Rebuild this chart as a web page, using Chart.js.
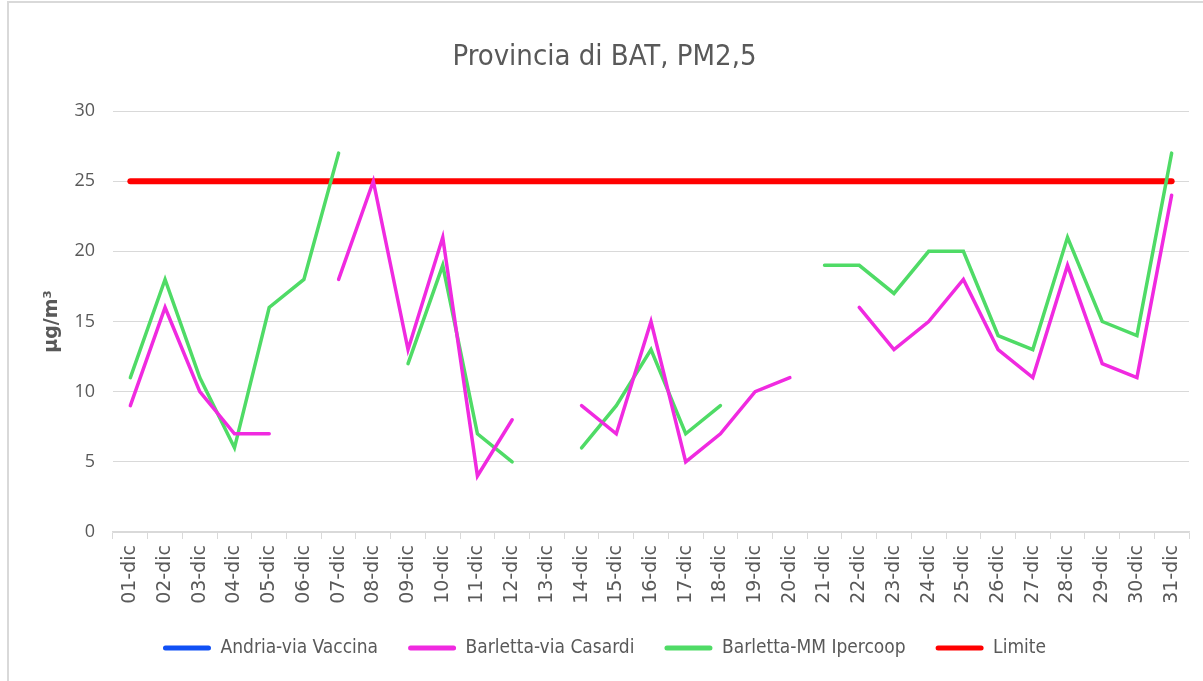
<!DOCTYPE html>
<html>
<head>
<meta charset="utf-8">
<title>Provincia di BAT, PM2,5</title>
<script src="https://cdn.jsdelivr.net/npm/chart.js@4.4.1/dist/chart.umd.min.js"></script>
<style>
  body { margin: 0; background: #fff; }
  .wrap { position: relative; width: 1203px; height: 681px; overflow: hidden; }
  .frame { position: absolute; left: 7px; top: 1px; width: 1220px; height: 720px;
           border-left: 2px solid #d9d9d9; border-top: 2px solid #d9d9d9; }
  canvas { position: absolute; left: 0; top: 0; }
</style>
</head>
<body>
<div class="wrap">
  <div class="frame"></div>
  <canvas id="chart" width="1203" height="681"></canvas>
</div>
<script>
const days = ["01-dic", "02-dic", "03-dic", "04-dic", "05-dic", "06-dic", "07-dic", "08-dic",
  "09-dic", "10-dic", "11-dic", "12-dic", "13-dic", "14-dic", "15-dic", "16-dic", "17-dic",
  "18-dic", "19-dic", "20-dic", "21-dic", "22-dic", "23-dic", "24-dic", "25-dic", "26-dic",
  "27-dic", "28-dic", "29-dic", "30-dic", "31-dic"];

// Andria has no data in December, it only shows up in the legend
const andria = [null, null, null, null, null, null, null, null, null, null, null, null, null,
  null, null, null, null, null, null, null, null, null, null, null, null, null, null, null,
  null, null, null];
const casardi = [9, 16, 10, 7, 7, null, 18, 25, 13, 21, 4, 8, null, 9, 7, 15, 5, 7, 10, 11,
  null, 16, 13, 15, 18, 13, 11, 19, 12, 11, 24];
const ipercoop = [11, 18, 11, 6, 16, 18, 27, null, 12, 19, 7, 5, null, 6, 9, 13, 7, 9, null,
  null, 19, 19, 17, 20, 20, 14, 13, 21, 15, 14, 27];
const limite = [25, 25, 25, 25, 25, 25, 25, 25, 25, 25, 25, 25, 25, 25, 25, 25, 25, 25, 25,
  25, 25, 25, 25, 25, 25, 25, 25, 25, 25, 25, 25];
const yTicks = [0, 5, 10, 15, 20, 25, 30];

const GREY = "#595959";
const GRID = "#d9d9d9";
const NARROW = "'Liberation Sans Narrow', 'DejaVu Sans Condensed', 'Liberation Sans', sans-serif";

const ctx = document.getElementById("chart");

new Chart(ctx, {
  type: "line",
  data: {
    labels: days,
    datasets: [
      { label: "Andria-via Vaccina", data: andria, borderColor: "#1050f5", backgroundColor: "#1050f5", borderWidth: 3.5 },
      { label: "Barletta-via Casardi", data: casardi, borderColor: "#f02ae0", backgroundColor: "#f02ae0", borderWidth: 3.5 },
      { label: "Barletta-MM Ipercoop", data: ipercoop, borderColor: "#4fdb66", backgroundColor: "#4fdb66", borderWidth: 3.5 },
      { label: "Limite", data: limite, borderColor: "#ff0000", backgroundColor: "#ff0000", borderWidth: 6 },
    ],
  },
  options: {
    responsive: false,
    animation: false,
    devicePixelRatio: 1,
    spanGaps: false,
    layout: { padding: { left: 20, right: 14, top: 0, bottom: 13.5 } },
    elements: {
      point: { radius: 0, hoverRadius: 0 },
      line: { tension: 0, borderCapStyle: "round" },
    },
    scales: {
      x: {
        offset: true,
        grid: { offset: true, drawOnChartArea: false, color: GRID, tickLength: 7 },
        border: { color: GRID, width: 1.5 },
        ticks: {
          autoSkip: false,
          minRotation: 90,
          maxRotation: 90,
          padding: 6,
          color: GREY,
          font: { family: "'DejaVu Sans', sans-serif", size: 19 },
        },
        afterFit: (scale) => { scale.height = 76.5; },
      },
      y: {
        min: 0,
        max: 30,
        afterBuildTicks: (scale) => { scale.ticks = yTicks.map((v) => ({ value: v })); },
        ticks: {
          padding: 18,
          color: GREY,
          font: { family: "'Open Sans', sans-serif", size: 18 },
        },
        grid: { color: GRID, drawTicks: false },
        border: { display: false },
        title: {
          display: true,
          text: "µg/m³",
          color: GREY,
          font: { family: "'DejaVu Sans', sans-serif", size: 19, weight: "bold" },
          padding: { top: 21, bottom: 0 },
        },
        afterFit: (scale) => { scale.width = 93; },
      },
    },
    plugins: {
      title: {
        display: true,
        text: "Provincia di BAT, PM2,5",
        color: GREY,
        font: { family: NARROW, size: 29, weight: "normal" },
        padding: { top: 40.5, bottom: 35.7 },
      },
      legend: {
        position: "bottom",
        labels: {
          boxWidth: 48,
          boxHeight: 5,
          padding: 30,
          color: GREY,
          font: { family: NARROW, size: 19 },
          generateLabels: (chart) => chart.data.datasets.map((ds, i) => ({
            text: ds.label,
            fillStyle: ds.borderColor,
            strokeStyle: ds.borderColor,
            lineWidth: 0,
            borderRadius: 2.5,
            hidden: false,
            datasetIndex: i,
            fontColor: GREY,
          })),
        },
      },
      tooltip: { enabled: false },
    },
  },
});
</script>
</body>
</html>
